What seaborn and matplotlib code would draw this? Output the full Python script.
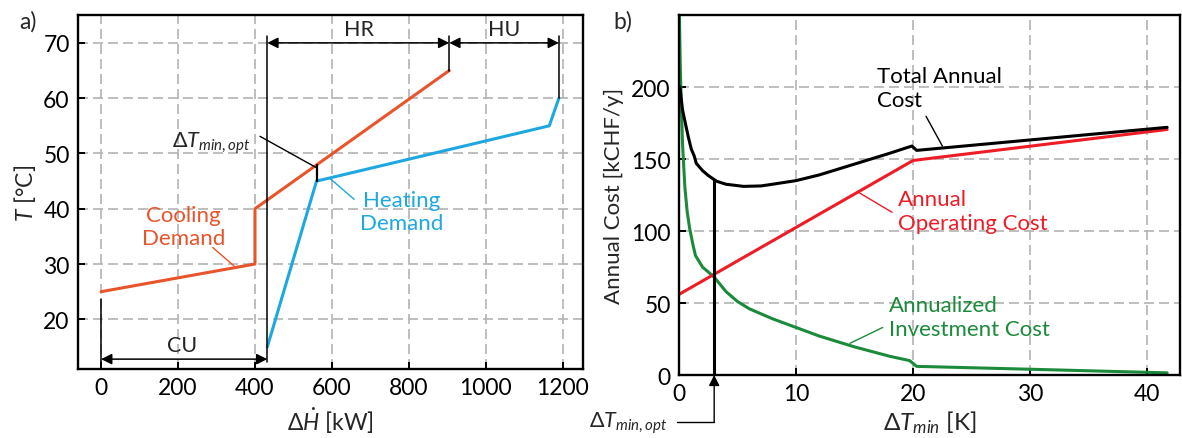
import numpy as np
import pandas as pd
import matplotlib
matplotlib.use('Agg')
import matplotlib.pyplot as plt
import seaborn as sns

# a) composite curves
cool_dh = [0, 400, 400, 905]
cool_t = [25, 30, 40, 65]
heat_dh = [432, 560, 1165, 1190]
heat_t = [15, 45, 55, 60]

# b) annual cost vs. dTmin
inv_x = [0.03, 0.1, 0.2, 0.3, 0.5, 0.7, 0.9, 1.2, 1.4, 2.0, 3.0, 4.0, 5.0, 6.0, 8.0,
         10.0, 12.0, 15.0, 18.0, 19.7, 20.3, 30.0, 41.7]
inv_y = [250, 215, 185, 160, 130, 113, 102, 90, 83, 75, 68, 58, 51, 46, 39,
         33, 27, 19.5, 13, 10, 6, 4, 1.5]
op_x = [0, 20, 41.7]
op_y = [56, 149, 170.5]
tot_x = [0.08, 0.17, 0.3, 0.6, 0.8, 1.04, 1.3, 1.47, 2.0, 2.5, 3.2, 4.0, 5.5,
         7.0, 8.0, 10.0, 12.0, 14.0, 16.0, 18.0, 19.5, 19.9, 20.3, 41.7]
tot_y = [200, 193, 184, 172.5, 165, 157, 152, 147, 142, 138.5, 134.6, 132.5, 131,
         131.3, 132.5, 135, 139, 144, 149, 154, 158, 159, 156, 172]
dt_opt = 3.0

xticks_a = [0, 200, 400, 600, 800, 1000, 1200]
yticks_a = [20, 30, 40, 50, 60, 70]
xticks_b = [0, 10, 20, 30, 40]
yticks_b = [0, 50, 100, 150, 200]

c_cool = '#e8542c'
c_heat = '#1ea8df'
c_op = '#ee1c25'
c_inv = '#1b8a3a'

sns.set_style('ticks')
plt.rcParams['font.family'] = ['Lato', 'DejaVu Sans']
plt.rcParams['mathtext.fontset'] = 'custom'
plt.rcParams['mathtext.rm'] = 'Lato'
plt.rcParams['mathtext.it'] = 'Lato:italic'
plt.rcParams['mathtext.bf'] = 'Lato:bold'
FS = 15.5      # annotations
FS_TICK = 16.5
FS_LAB = 16

fig = plt.figure(figsize=(11.82, 4.39), dpi=100)
ax1 = fig.add_axes([0.066, 0.157, 0.427, 0.806])
ax2 = fig.add_axes([0.5745, 0.1435, 0.4238, 0.82])

grid_kw = dict(color='#b3b3b3', lw=1.2, ls=(0, (6, 3)))
for ax in (ax1, ax2):
    ax.grid(True, **grid_kw)
    ax.set_axisbelow(True)
    for s in ax.spines.values():
        s.set_linewidth(1.7)
        s.set_color('black')
    ax.tick_params(direction='in', length=5, width=1.4, labelsize=FS_TICK, pad=6, colors='black')

# ---- panel a
cool = pd.DataFrame({'dH': cool_dh, 'T': cool_t})
heat = pd.DataFrame({'dH': heat_dh, 'T': heat_t})
sns.lineplot(data=cool, x='dH', y='T', sort=False, estimator=None, color=c_cool, lw=2.2, ax=ax1)
sns.lineplot(data=heat, x='dH', y='T', sort=False, estimator=None, color=c_heat, lw=2.2, ax=ax1)

ax1.set_xlim(-60, 1252)
ax1.set_ylim(11, 75)
ax1.set_xticks(xticks_a)
ax1.set_yticks(yticks_a)
ax1.set_xlabel(r'$\Delta\dot{H}$ [kW]', fontsize=FS_LAB + 0.5, labelpad=5)
ax1.set_ylabel(r'$T$ [°C]', fontsize=FS_LAB + 0.5, labelpad=4)

# boundaries of the utilities / heat recovery
h_start, h_end = heat_dh[0], heat_dh[-1]
c_end = cool_dh[-1]
ax1.plot([h_start, h_start], [12.2, 71.2], color='k', lw=1.1)
ax1.plot([cool_dh[0], cool_dh[0]], [11.9, 23.6], color='k', lw=1.1)
ax1.plot([c_end, c_end], [cool_t[-1], 71.2], color='k', lw=1.1)
ax1.plot([h_end, h_end], [heat_t[-1], 71.2], color='k', lw=1.1)

arr = dict(arrowstyle='<|-|>', color='k', lw=1.1, mutation_scale=16, shrinkA=0, shrinkB=0)
ax1.annotate('', xy=(cool_dh[0], 12.8), xytext=(h_start, 12.8), arrowprops=arr)
ax1.annotate('', xy=(h_start, 70), xytext=(c_end, 70), arrowprops=arr)
ax1.annotate('', xy=(c_end, 70), xytext=(h_end, 70), arrowprops=arr)
ax1.text((cool_dh[0] + h_start) / 2 - 5, 13.5, 'CU', ha='center', va='bottom', fontsize=FS)
ax1.text((h_start + c_end) / 2 + 2, 70.7, 'HR', ha='center', va='bottom', fontsize=FS)
ax1.text((c_end + h_end) / 2, 70.7, 'HU', ha='center', va='bottom', fontsize=FS)

# dTmin at the pinch
px, pt = heat_dh[1], heat_t[1]
pt_cool = np.interp(px, cool_dh[2:], cool_t[2:])
ax1.plot([px, px], [pt, pt_cool], color='k', lw=1.6)
ax1.plot([px, 413], [pt_cool - 0.5, 53.1], color='k', lw=1.0)
ax1.text(388, 52.0, r'$\Delta T_{min,opt}$', ha='right', va='center', fontsize=FS)

ax1.text(214, 36.8, 'Cooling\nDemand', ha='center', va='center', fontsize=FS + 0.5,
         color=c_cool, linespacing=1.2)
ax1.plot([345, 290], [29.7, 33.0], color=c_cool, lw=1.0)
ax1.text(781, 39.5, 'Heating\nDemand', ha='center', va='center', fontsize=FS + 0.5,
         color=c_heat, linespacing=1.2)
ax1.plot([593, 658], [45.6, 41.7], color=c_heat, lw=1.0)
fig.text(28 / 1182, 1 - 22 / 439, 'a)', ha='center', va='center', fontsize=FS_TICK)

# ---- panel b
inv = pd.DataFrame({'dT': inv_x, 'cost': inv_y})
op = pd.DataFrame({'dT': op_x, 'cost': op_y})
tot = pd.DataFrame({'dT': tot_x, 'cost': tot_y})
sns.lineplot(data=inv, x='dT', y='cost', sort=False, estimator=None, color=c_inv, lw=2.2, ax=ax2)
sns.lineplot(data=op, x='dT', y='cost', sort=False, estimator=None, color=c_op, lw=2.2, ax=ax2)
sns.lineplot(data=tot, x='dT', y='cost', sort=False, estimator=None, color='k', lw=2.2, ax=ax2)

ax2.set_xlim(0, 42.8)
ax2.set_ylim(0, 250)
ax2.set_xticks(xticks_b)
ax2.set_yticks(yticks_b)
ax2.set_xlabel(r'$\Delta T_{min}$ [K]', fontsize=FS_LAB + 1.5, labelpad=3)
ax2.set_ylabel('Annual Cost [kCHF/y]', fontsize=FS_LAB, labelpad=5)

t_opt = np.interp(dt_opt, tot_x, tot_y)
ax2.plot([dt_opt, dt_opt], [0, t_opt], color='k', lw=2.2)

tr = ax2.get_xaxis_transform()
ax2.annotate('', xy=(dt_opt, 0), xycoords='data', xytext=(dt_opt, -0.13), textcoords=tr,
             arrowprops=dict(arrowstyle='-|>', color='k', lw=1.0, mutation_scale=16,
                             shrinkA=0, shrinkB=0))
ax2.plot([-0.2, dt_opt], [-0.13, -0.13], color='k', lw=1.0, transform=tr, clip_on=False)
ax2.text(-1.0, -0.13, r'$\Delta T_{min,opt}$', ha='right', va='center', fontsize=FS,
         transform=tr)

ax2.text(16.9, 199, 'Total Annual\nCost', ha='left', va='center', fontsize=FS + 0.5,
         color='k', linespacing=1.25)
ax2.plot([21.1, 22.5], [179.7, 159], color='k', lw=1.0)
ax2.text(18.7, 114, 'Annual\nOperating Cost', ha='left', va='center', fontsize=FS + 0.5,
         color=c_op, linespacing=1.25)
ax2.plot([18.2, 15.3], [113, 127], color=c_op, lw=1.0)
ax2.text(17.9, 40, 'Annualized\nInvestment Cost', ha='left', va='center', fontsize=FS + 0.5,
         color=c_inv, linespacing=1.25)
ax2.plot([17.4, 14.6], [33, 22], color=c_inv, lw=1.0)
fig.text(623 / 1182, 1 - 22 / 439, 'b)', ha='center', va='center', fontsize=FS_TICK)

fig.savefig('out.png', dpi=100)
